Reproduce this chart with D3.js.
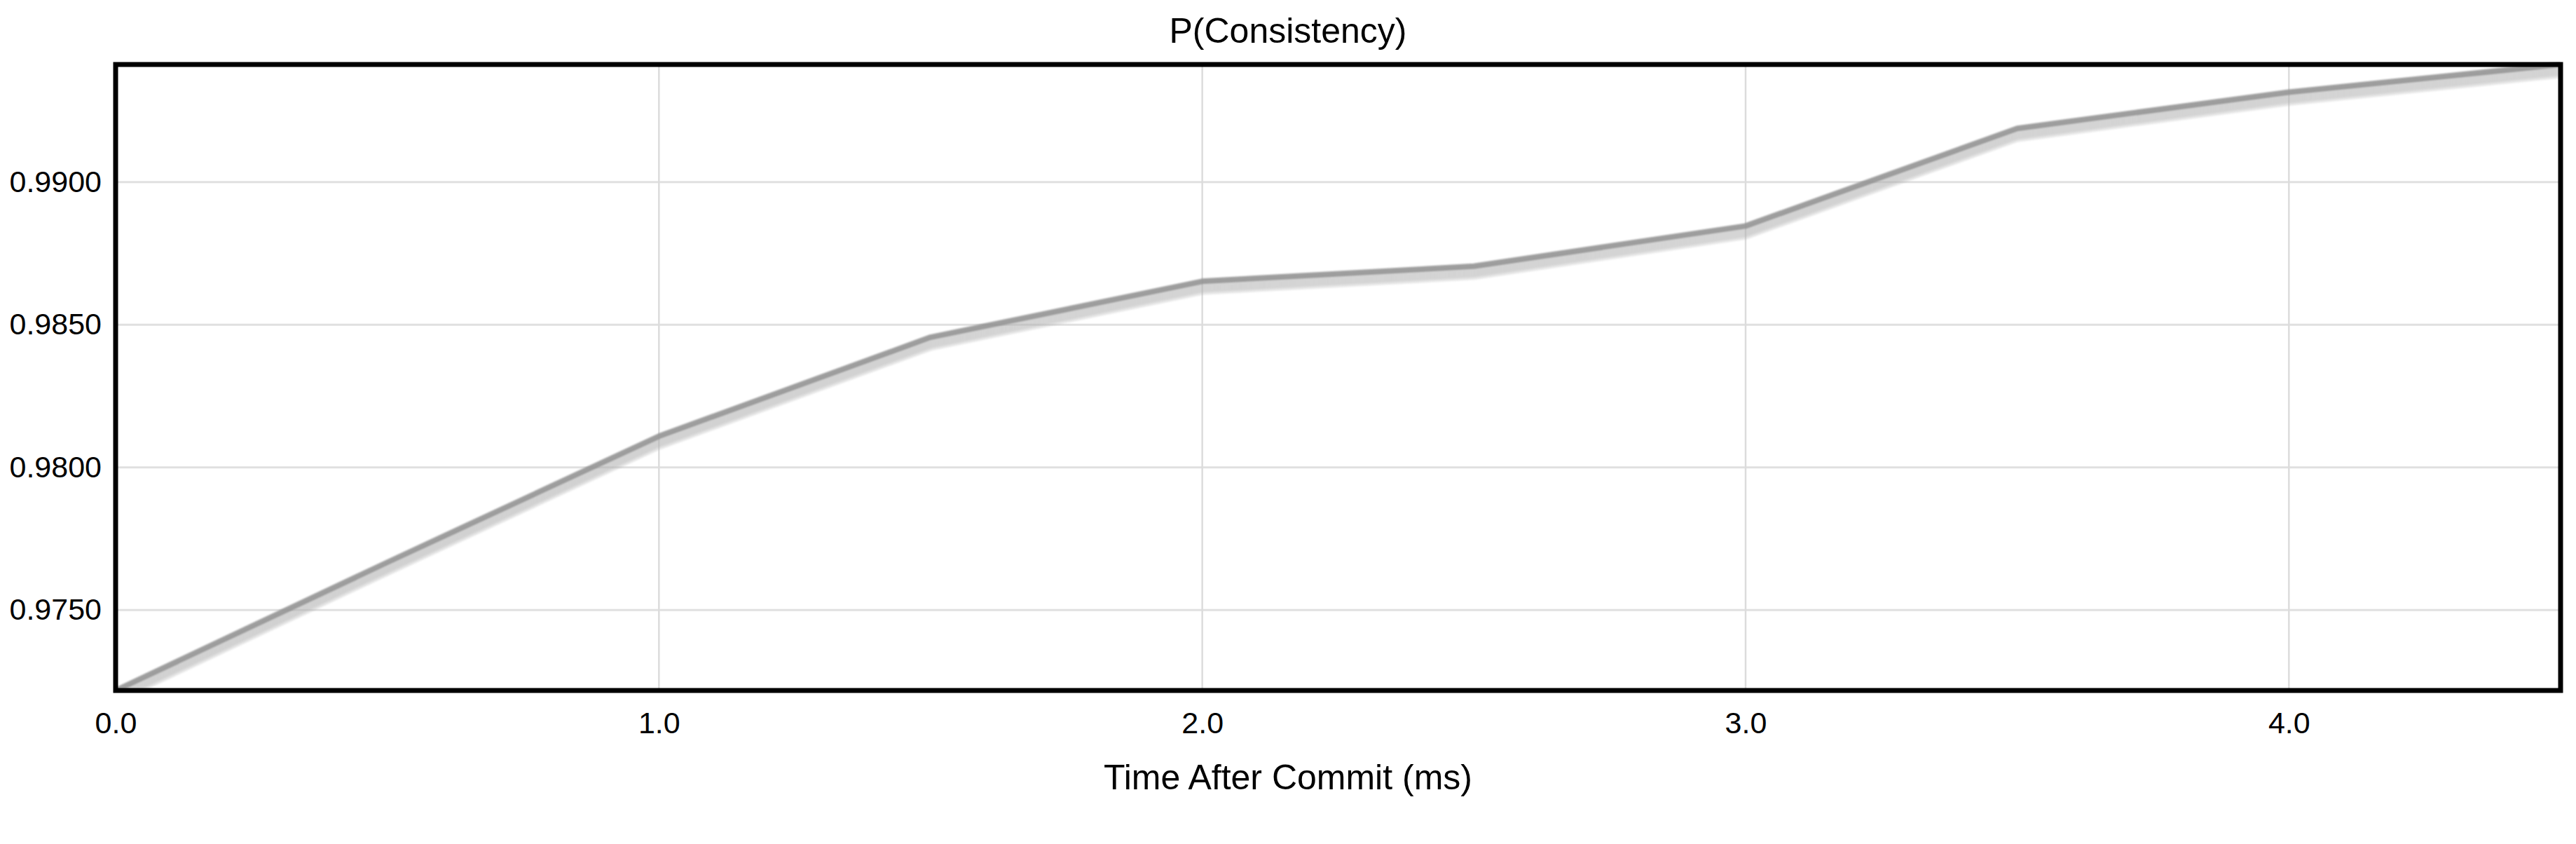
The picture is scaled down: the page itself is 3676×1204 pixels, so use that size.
<!DOCTYPE html>
<html>
<head>
<meta charset="utf-8">
<script src="https://cdn.jsdelivr.net/npm/d3@7"></script>
<style>
  html, body { margin: 0; padding: 0; background: #fff; }
  svg { display: block; font-family: "Liberation Sans", Arial, Helvetica, sans-serif; }
</style>
</head>
<body>
<svg id="chart" width="3676" height="1204"></svg>
<script>
// ---- data ----
const times = [0.0, 0.5, 1.0, 1.5, 2.0, 2.5, 3.0, 3.5, 4.0, 4.5];
const consistency = [0.97218, 0.97667, 0.98109, 0.98456, 0.98652, 0.98705, 0.98846, 0.99188, 0.99315, 0.99412];
const xTicks = [0, 1, 2, 3, 4];
const yTicks = [0.975, 0.980, 0.985, 0.990];
const titleText = "P(Consistency)";
const xLabelText = "Time After Commit (ms)";

// ---- layout ----
const W = 3676, H = 1204;
const m = { left: 165, right: 22, top: 92, bottom: 219 };
const svg = d3.select("#chart");

const x = d3.scaleLinear().domain([0, 4.5]).range([m.left, W - m.right]);
const y = d3.scaleLinear().domain(d3.extent(consistency)).range([H - m.bottom, m.top]);

const data = times.map((t, i) => ({ t, v: consistency[i] }));

// soft blur filter for the line
const defs = svg.append("defs");
defs.append("filter").attr("id", "soft")
  .attr("x", "-5%").attr("y", "-20%").attr("width", "110%").attr("height", "140%")
  .append("feGaussianBlur").attr("stdDeviation", 1.3);

// gridlines
const grid = svg.append("g");
grid.selectAll("line.h").data(yTicks).join("line")
  .attr("x1", m.left).attr("x2", W - m.right)
  .attr("y1", d => y(d)).attr("y2", d => y(d))
  .attr("stroke", "#e0e0e0").attr("stroke-width", 3);
grid.selectAll("line.v").data(xTicks.filter(d => d > 0)).join("line")
  .attr("y1", m.top).attr("y2", H - m.bottom)
  .attr("x1", d => x(d)).attr("x2", d => x(d))
  .attr("stroke", "#dcdcdc").attr("stroke-width", 2.5);

// line with soft trailing shadow
const line = d3.line().x(d => x(d.t)).y(d => y(d.v));
defs.append("clipPath").attr("id", "clip").append("rect")
  .attr("x", m.left).attr("y", m.top - 4)
  .attr("width", W - m.left - m.right).attr("height", H - m.top - m.bottom + 4);
const lg = svg.append("g").attr("clip-path", "url(#clip)").append("g").attr("filter", "url(#soft)");
[16, 13, 10, 7, 4].forEach(off => {
  lg.append("path").datum(data)
    .attr("d", line)
    .attr("transform", `translate(0,${off})`)
    .attr("fill", "none")
    .attr("stroke", "#b4b4b4")
    .attr("stroke-opacity", 0.3)
    .attr("stroke-width", 7)
    .attr("stroke-linejoin", "round");
});
lg.append("path").datum(data)
  .attr("d", line)
  .attr("fill", "none")
  .attr("stroke", "#939393")
  .attr("stroke-opacity", 0.9)
  .attr("stroke-width", 8)
  .attr("stroke-linejoin", "round");

// frame
svg.append("rect")
  .attr("x", m.left).attr("y", m.top)
  .attr("width", W - m.left - m.right).attr("height", H - m.top - m.bottom)
  .attr("fill", "none").attr("stroke", "#000").attr("stroke-width", 7);

// y axis labels
const yAxis = d3.axisLeft(y).tickValues(yTicks).tickFormat(d3.format(".4f")).tickSize(0).tickPadding(20);
const yg = svg.append("g").attr("transform", `translate(${m.left},0)`).call(yAxis);
yg.select(".domain").remove();
yg.selectAll("text").attr("font-size", 43).attr("fill", "#000")
  .attr("font-family", '"Liberation Sans", Arial, sans-serif');

// x axis labels
const xAxis = d3.axisBottom(x).tickValues(xTicks).tickFormat(d3.format(".1f")).tickSize(0).tickPadding(30);
const xg = svg.append("g").attr("transform", `translate(0,${H - m.bottom})`).call(xAxis);
xg.select(".domain").remove();
xg.selectAll("text").attr("font-size", 43).attr("fill", "#000")
  .attr("font-family", '"Liberation Sans", Arial, sans-serif');

// title
svg.append("text").attr("x", W / 2).attr("y", 61)
  .attr("text-anchor", "middle").attr("font-size", 50).attr("fill", "#000")
  .text(titleText);

// x label
svg.append("text").attr("x", W / 2).attr("y", 1126)
  .attr("text-anchor", "middle").attr("font-size", 50).attr("fill", "#000")
  .text(xLabelText);
</script>
</body>
</html>
